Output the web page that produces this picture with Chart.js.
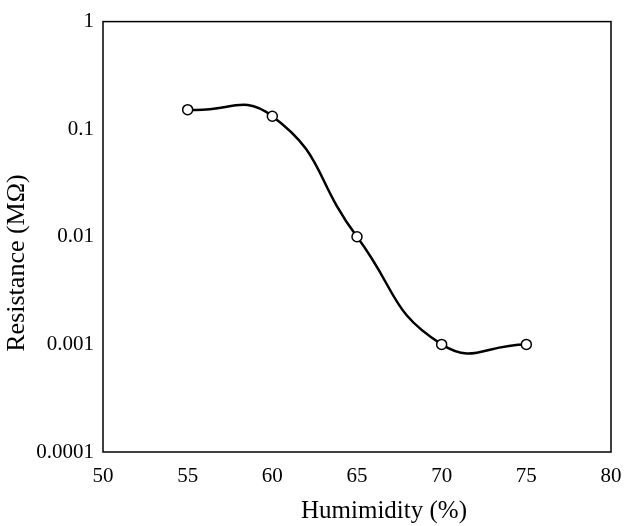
<!DOCTYPE html>
<html>
<head>
<meta charset="utf-8">
<script src="https://cdn.jsdelivr.net/npm/chart.js@4/dist/chart.umd.min.js"></script>
<style>
  html, body { margin: 0; padding: 0; background: #fff; }
  #wrap { width: 624px; height: 526px; }
</style>
</head>
<body>
<div id="wrap"><canvas id="chart"></canvas></div>
<script>
// values
const humidity = [55, 60, 65, 70, 75];
const resistance = [0.152, 0.132, 0.01, 0.001, 0.001];
const yTicks = [0.0001, 0.001, 0.01, 0.1, 1];
const yTickLabels = ["0.0001", "0.001", "0.01", "0.1", "1"];
const xTitle = "Humimidity (%)";
const yTitle = "Resistance (M\u03A9)";

const font = "'Liberation Serif', serif";

// frame round the plot area plus the two axis titles
const framePlugin = {
  id: "frame",
  afterDraw(chart) {
    const { ctx, chartArea: a } = chart;
    ctx.save();
    ctx.strokeStyle = "#000";
    ctx.lineWidth = 1.5;
    ctx.strokeRect(a.left, a.top, a.right - a.left, a.bottom - a.top);

    ctx.fillStyle = "#000";
    ctx.textAlign = "center";
    ctx.textBaseline = "middle";
    ctx.font = "25px " + font;
    ctx.fillText(xTitle, 384, 511);

    ctx.font = "26px " + font;
    ctx.translate(17, 263);
    ctx.rotate(-Math.PI / 2);
    ctx.fillText(yTitle, 0, 0);
    ctx.restore();
  }
};

function draw() {
  new Chart(document.getElementById("chart"), {
    type: "line",
    data: {
      labels: humidity,
      datasets: [{
        data: humidity.map((h, i) => ({ x: h, y: resistance[i] })),
        borderColor: "#000",
        borderWidth: 2.5,
        tension: 0.5,
        pointRadius: 5,
        pointBackgroundColor: "#fff",
        pointBorderColor: "#000",
        pointBorderWidth: 1.5,
      }],
    },
    options: {
      responsive: true,
      maintainAspectRatio: false,
      animation: false,
      layout: { padding: { left: 0, right: 13, top: 19, bottom: 0 } },
      plugins: {
        legend: { display: false },
        tooltip: { enabled: false },
      },
      scales: {
        x: {
          type: "linear",
          min: 50,
          max: 80,
          grid: { display: false, drawTicks: false },
          border: { display: false },
          ticks: {
            stepSize: 5,
            padding: 12,
            color: "#000",
            font: { family: font, size: 21 },
            maxRotation: 0,
          },
          afterFit(scale) { scale.height = 74; scale.paddingRight = 0; },
        },
        y: {
          type: "logarithmic",
          min: 0.0001,
          max: 1,
          grid: { display: false, drawTicks: false },
          border: { display: false },
          afterBuildTicks(scale) {
            scale.ticks = yTicks.map(v => ({ value: v }));
          },
          ticks: {
            padding: 9,
            color: "#000",
            font: { family: font, size: 21 },
            callback: (v) => {
              const i = yTicks.findIndex(t => Math.abs(t - v) < t * 1e-6);
              return i >= 0 ? yTickLabels[i] : "";
            },
          },
          afterFit(scale) { scale.width = 103; },
        },
      },
    },
    plugins: [framePlugin],
  });
}

Promise.all([
  document.fonts.load("21px 'Liberation Serif'"),
  document.fonts.load("26px 'Liberation Serif'", "\u03A9"),
]).then(draw, draw);
</script>
</body>
</html>
